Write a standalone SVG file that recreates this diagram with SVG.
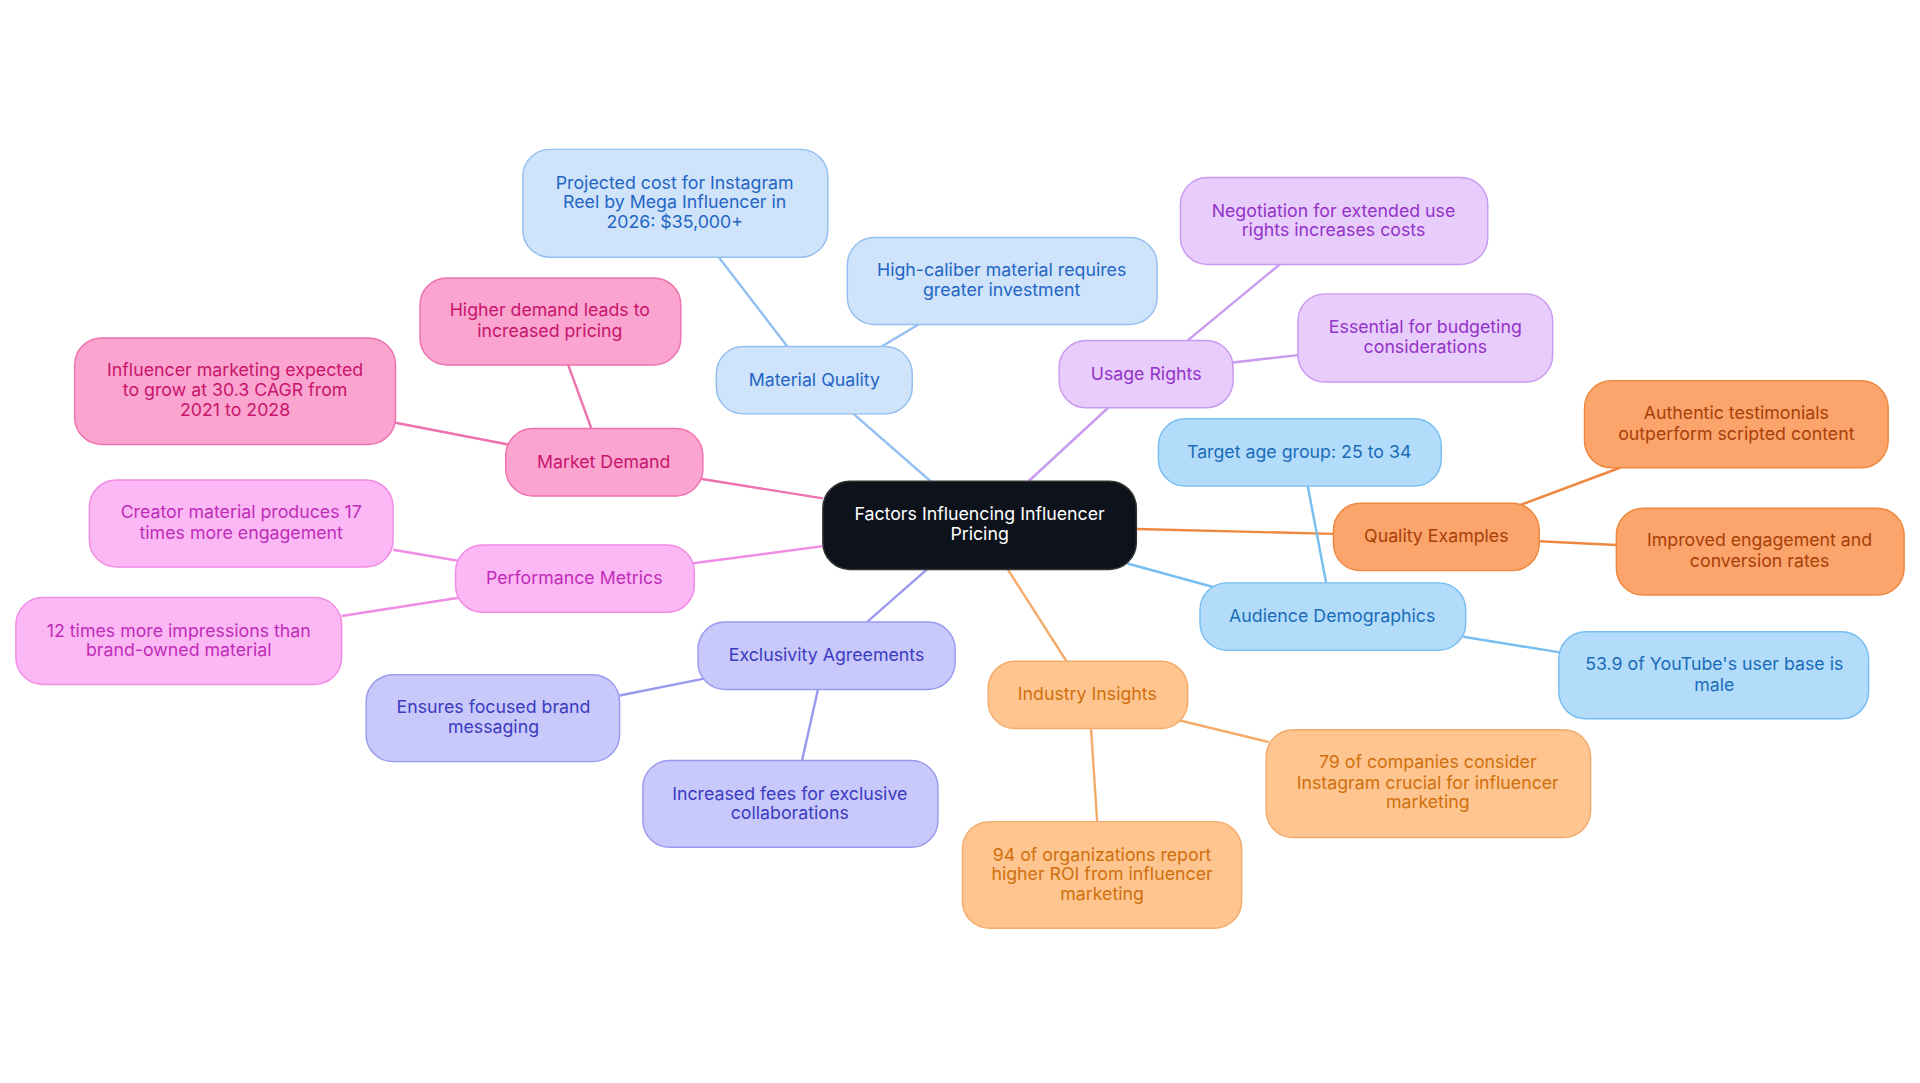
<svg xmlns="http://www.w3.org/2000/svg" width="1920" height="1083" viewBox="0 0 1920 1083">
<style>
text{font-family:Inter,"Noto Sans",sans-serif;font-size:14.5px;text-anchor:middle}
rect{stroke-width:1.2}
.e line{stroke-width:2;fill:none}
.mq rect{fill:#cfe3fb;stroke:#93c0f0}.mq text{fill:#2466c4}
.ur rect{fill:#e8ccfb;stroke:#c89af0}.ur text{fill:#9333c8}
.md rect{fill:#fba4d0;stroke:#ee72b0}.md text{fill:#c8146c}
.pm rect{fill:#fcb8f4;stroke:#f08ce6}.pm text{fill:#c02cb8}
.ea rect{fill:#c8c8fb;stroke:#9a9af0}.ea text{fill:#3b3bc0}
.ii rect{fill:#fec590;stroke:#f4ac6c}.ii text{fill:#d0700c}
.ad rect{fill:#b3dcfb;stroke:#78bef0}.ad text{fill:#1a6cb8}
.qe rect{fill:#fba46c;stroke:#ee8840}.qe text{fill:#a84008}
</style>
<rect width="1920" height="1083" fill="#fff"/>
<g transform="scale(1.2245)">
<g id="connectors" class="e">
<line x1="760" y1="393" x2="697" y2="338" stroke="#93c0f0"/>
<line x1="840" y1="393" x2="905" y2="333" stroke="#c89af0"/>
<line x1="672" y1="407" x2="572" y2="391" stroke="#ee72b0"/>
<line x1="672" y1="446" x2="566" y2="460" stroke="#f08ce6"/>
<line x1="757" y1="465" x2="708" y2="508" stroke="#9a9af0"/>
<line x1="823" y1="465" x2="871" y2="540" stroke="#f4ac6c"/>
<line x1="920" y1="460" x2="993" y2="480" stroke="#78bef0"/>
<line x1="928" y1="432" x2="1089" y2="436" stroke="#ee8840"/>
<line x1="643" y1="283" x2="587" y2="210" stroke="#93c0f0"/>
<line x1="720" y1="283" x2="750" y2="265" stroke="#93c0f0"/>
<line x1="970" y1="278" x2="1045" y2="216" stroke="#c89af0"/>
<line x1="1007" y1="296" x2="1060" y2="290" stroke="#c89af0"/>
<line x1="483" y1="350" x2="464" y2="298" stroke="#ee72b0"/>
<line x1="415" y1="363" x2="322" y2="345" stroke="#ee72b0"/>
<line x1="374" y1="458" x2="321" y2="449" stroke="#f08ce6"/>
<line x1="376" y1="488" x2="279" y2="503" stroke="#f08ce6"/>
<line x1="576" y1="554" x2="506" y2="568" stroke="#9a9af0"/>
<line x1="668" y1="563" x2="655" y2="621" stroke="#9a9af0"/>
<line x1="962" y1="588" x2="1036" y2="606" stroke="#f4ac6c"/>
<line x1="891" y1="595" x2="896" y2="671" stroke="#f4ac6c"/>
<line x1="1083" y1="476" x2="1068" y2="397" stroke="#78bef0"/>
<line x1="1195" y1="520" x2="1275" y2="533" stroke="#78bef0"/>
<line x1="1240" y1="413" x2="1323" y2="382" stroke="#ee8840"/>
<line x1="1257" y1="442" x2="1320" y2="445" stroke="#ee8840"/>
</g>
<g id="root"><rect x="672" y="393" width="256" height="72" rx="22" fill="#0d121b" stroke="#333"/><text x="800" y="425" fill="#fff">Factors Influencing Influencer</text><text x="800" y="441" fill="#fff">Pricing</text></g>
<g id="mq" class="mq"><rect x="585" y="283" width="160" height="55" rx="22"/><text x="665" y="315">Material Quality</text></g>
<g id="mq1" class="mq"><rect x="427" y="122" width="249" height="88" rx="22"/><text x="551" y="154">Projected cost for Instagram</text><text x="551" y="170">Reel by Mega Influencer in</text><text x="551" y="186">2026: $35,000+</text></g>
<g id="mq2" class="mq"><rect x="692" y="194" width="253" height="71" rx="22"/><text x="818" y="225">High-caliber material requires</text><text x="818" y="242">greater investment</text></g>
<g id="ur" class="ur"><rect x="865" y="278" width="142" height="55" rx="22"/><text x="936" y="310">Usage Rights</text></g>
<g id="ur1" class="ur"><rect x="964" y="145" width="251" height="71" rx="22"/><text x="1089" y="177">Negotiation for extended use</text><text x="1089" y="193">rights increases costs</text></g>
<g id="ur2" class="ur"><rect x="1060" y="240" width="208" height="72" rx="22"/><text x="1164" y="272">Essential for budgeting</text><text x="1164" y="288">considerations</text></g>
<g id="md" class="md"><rect x="413" y="350" width="161" height="55" rx="22"/><text x="493" y="382">Market Demand</text></g>
<g id="md1" class="md"><rect x="343" y="227" width="213" height="71" rx="22"/><text x="449" y="258">Higher demand leads to</text><text x="449" y="275">increased pricing</text></g>
<g id="md2" class="md"><rect x="61" y="276" width="262" height="87" rx="22"/><text x="192" y="307">Influencer marketing expected</text><text x="192" y="323">to grow at 30.3 CAGR from</text><text x="192" y="340">2021 to 2028</text></g>
<g id="pm" class="pm"><rect x="372" y="445" width="195" height="55" rx="22"/><text x="469" y="477">Performance Metrics</text></g>
<g id="pm1" class="pm"><rect x="73" y="392" width="248" height="71" rx="22"/><text x="197" y="423">Creator material produces 17</text><text x="197" y="440">times more engagement</text></g>
<g id="pm2" class="pm"><rect x="13" y="488" width="266" height="71" rx="22"/><text x="146" y="520">12 times more impressions than</text><text x="146" y="536">brand-owned material</text></g>
<g id="ea" class="ea"><rect x="570" y="508" width="210" height="55" rx="22"/><text x="675" y="540">Exclusivity Agreements</text></g>
<g id="ea1" class="ea"><rect x="299" y="551" width="207" height="71" rx="22"/><text x="403" y="582">Ensures focused brand</text><text x="403" y="599">messaging</text></g>
<g id="ea2" class="ea"><rect x="525" y="621" width="241" height="71" rx="22"/><text x="645" y="653">Increased fees for exclusive</text><text x="645" y="669">collaborations</text></g>
<g id="ii" class="ii"><rect x="807" y="540" width="163" height="55" rx="22"/><text x="888" y="572">Industry Insights</text></g>
<g id="ii1" class="ii"><rect x="1034" y="596" width="265" height="88" rx="22"/><text x="1166" y="627">79 of companies consider</text><text x="1166" y="644">Instagram crucial for influencer</text><text x="1166" y="660">marketing</text></g>
<g id="ii2" class="ii"><rect x="786" y="671" width="228" height="87" rx="22"/><text x="900" y="703">94 of organizations report</text><text x="900" y="719">higher ROI from influencer</text><text x="900" y="735">marketing</text></g>
<g id="ad" class="ad"><rect x="980" y="476" width="217" height="55" rx="22"/><text x="1088" y="508">Audience Demographics</text></g>
<g id="ad1" class="ad"><rect x="946" y="342" width="231" height="55" rx="22"/><text x="1061" y="374">Target age group: 25 to 34</text></g>
<g id="ad2" class="ad"><rect x="1273" y="516" width="253" height="71" rx="22"/><text x="1400" y="547">53.9 of YouTube's user base is</text><text x="1400" y="564">male</text></g>
<g id="qe" class="qe"><rect x="1089" y="411" width="168" height="55" rx="22"/><text x="1173" y="443">Quality Examples</text></g>
<g id="qe1" class="qe"><rect x="1294" y="311" width="248" height="71" rx="22"/><text x="1418" y="342">Authentic testimonials</text><text x="1418" y="359">outperform scripted content</text></g>
<g id="qe2" class="qe"><rect x="1320" y="415" width="235" height="71" rx="22"/><text x="1437" y="446">Improved engagement and</text><text x="1437" y="463">conversion rates</text></g>
</g>
</svg>
